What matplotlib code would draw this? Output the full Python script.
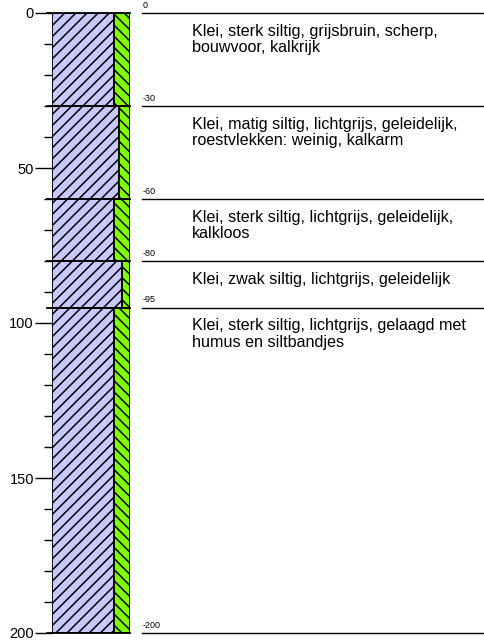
import matplotlib.pyplot as plt
from matplotlib.patches import Rectangle

plt.rcParams['font.family'] = ['Liberation Sans', 'DejaVu Sans']
plt.rcParams['hatch.linewidth'] = 1.1

# layer boundaries (cm below surface)
tops = [0, 30, 60, 80, 95]
bottoms = [30, 60, 80, 95, 200]
# share of the column drawn as clay (purple), rest is silt (green)
clay_pct = [79.5, 86, 79.5, 90, 79.5]
descriptions = [
    "Klei, sterk siltig, grijsbruin, scherp,\nbouwvoor, kalkrijk",
    "Klei, matig siltig, lichtgrijs, geleidelijk,\nroestvlekken: weinig, kalkarm",
    "Klei, sterk siltig, lichtgrijs, geleidelijk,\nkalkloos",
    "Klei, zwak siltig, lichtgrijs, geleidelijk",
    "Klei, sterk siltig, lichtgrijs, gelaagd met\nhumus en siltbandjes",
]
depth_marks = tops + [200]

W, H = 484, 643
fig = plt.figure(figsize=(W / 100, H / 100), dpi=100)

y0, y1 = 13, 633
ax = fig.add_axes([52 / W, (H - y1) / H, 78 / W, (y1 - y0) / H])
ax.set_xlim(0, 100)
ax.set_ylim(200, 0)

for top, bot, pct in zip(tops, bottoms, clay_pct):
    h = bot - top
    ax.add_patch(Rectangle((0, top), pct, h, facecolor='#c8c8ff',
                           edgecolor='black', hatch='///', linewidth=1.3))
    ax.add_patch(Rectangle((pct, top), 100 - pct, h, facecolor='#80ff00',
                           edgecolor='black', hatch='\\\\\\', linewidth=1.3))
for d in depth_marks:
    ax.plot([-7, 100], [d, d], color='black', lw=1.3, clip_on=False)

for s in ax.spines.values():
    s.set_visible(False)
ax.set_xticks([])
ax.set_yticks([0, 50, 100, 150, 200])
ax.set_yticks(range(0, 201, 10), minor=True)
ax.tick_params(axis='y', which='major', length=12, width=1, labelsize=10.5, pad=1)
ax.tick_params(axis='y', which='minor', length=6, width=1)

# descriptions on the right
ax2 = fig.add_axes([142 / W, (H - y1) / H, (483 - 142) / W, (y1 - y0) / H])
ax2.set_xlim(0, 1)
ax2.set_ylim(200, 0)
ax2.axis('off')
for d in depth_marks:
    ax2.plot([0, 1], [d, d], color='black', lw=1, clip_on=False)
    ax2.text(0.003, d - 1.0, f"{-d}" if d else "0", fontsize=6.5,
             ha='left', va='bottom')
for top, txt in zip(tops, descriptions):
    ax2.text(50 / 341, top + 3.5, txt, fontsize=11.6, ha='left', va='top',
             linespacing=1.12)

fig.savefig('out.png', dpi=100)
